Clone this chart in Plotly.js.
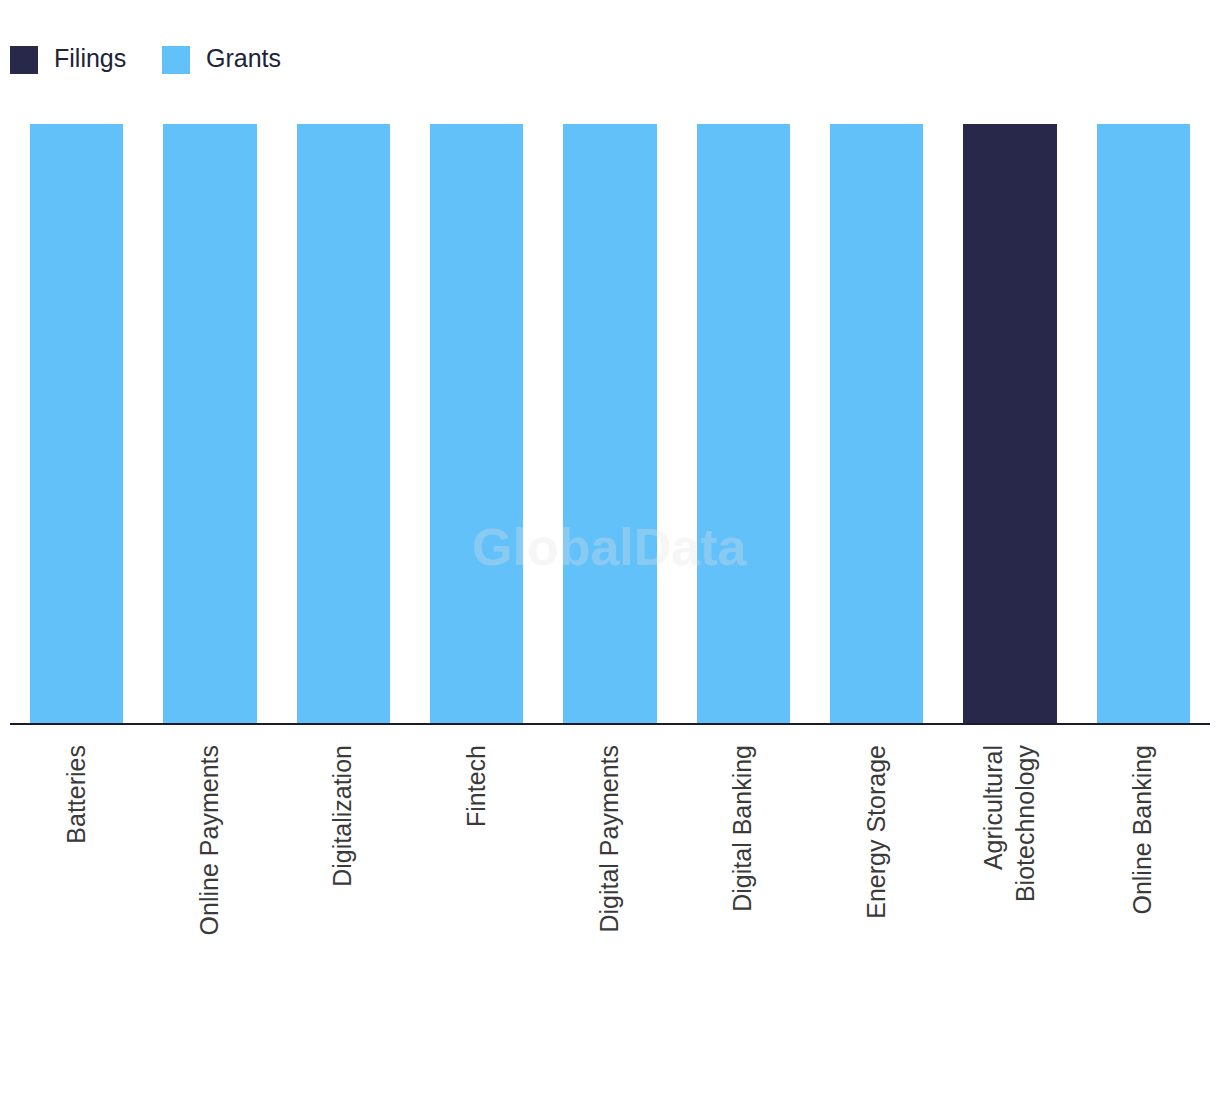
<!DOCTYPE html>
<html>
<head>
<meta charset="utf-8">
<script src="https://cdn.plot.ly/plotly-3.0.1.min.js"></script>
<style>html,body{margin:0;padding:0;background:#fff;}#chart{width:1220px;height:1094px;}</style>
</head>
<body>
<div id="chart"></div>
<script>
var categories = ["Batteries", "Online Payments", "Digitalization", "Fintech", "Digital Payments", "Digital Banking", "Energy Storage", "Agricultural<br>Biotechnology", "Online Banking"];
var filings = [0, 0, 0, 0, 0, 0, 0, 1, 0];
var grants  = [1, 1, 1, 1, 1, 1, 1, 0, 1];
var seriesNames = ["Filings", "Grants"];
var seriesColors = ["#27284a", "#63c1f9"];

var traces = [
  {type: "bar", name: seriesNames[0], x: categories, y: filings, marker: {color: seriesColors[0]}, showlegend: false, hoverinfo: "x+name"},
  {type: "bar", name: seriesNames[1], x: categories, y: grants, marker: {color: seriesColors[1]}, showlegend: false, hoverinfo: "x+name"}
];

// legend drawn manually (paper coords)
var W = 1200, H = 599;
function px(x){ return (x - 10) / W; }
function py(y){ return (723 - y) / H; }
var legendX = [10, 162];
var shapes = [], annotations = [];
seriesNames.forEach(function(n, i){
  shapes.push({type: "rect", xref: "paper", yref: "paper", x0: px(legendX[i]), x1: px(legendX[i] + 28), y0: py(74), y1: py(46), fillcolor: seriesColors[i], line: {width: 0}});
  annotations.push({xref: "paper", yref: "paper", x: px(legendX[i] + 42), y: py(58), xanchor: "left", yanchor: "middle", text: n, showarrow: false, font: {family: "Liberation Sans, Arial, sans-serif", size: 25, color: "#20223a"}});
});
annotations.push({xref: "paper", yref: "paper", x: 0.5, y: py(547), xanchor: "center", yanchor: "middle", text: "<b>GlobalData</b>", showarrow: false, font: {family: "Liberation Sans, Arial, sans-serif", size: 52, color: "rgba(225,225,225,0.3)"}});

var layout = {
  width: 1220, height: 1094,
  margin: {l: 10, r: 10, t: 124, b: 371, pad: 0},
  paper_bgcolor: "#ffffff", plot_bgcolor: "#ffffff",
  barmode: "stack", barnorm: "percent", bargap: 0.3,
  showlegend: false,
  font: {family: "Liberation Sans, Arial, sans-serif"},
  xaxis: {type: "category", tickangle: -90, showline: true, linecolor: "#1b1b2b", linewidth: 2, showgrid: false, zeroline: false,
          ticks: "outside", ticklen: 10, tickcolor: "rgba(0,0,0,0)",
          tickfont: {family: "Liberation Sans, Arial, sans-serif", size: 25, color: "#3a3a3a"}},
  yaxis: {range: [0, 100], visible: false, showgrid: false, zeroline: false},
  shapes: shapes,
  annotations: annotations
};
Plotly.newPlot("chart", traces, layout, {displayModeBar: false, staticPlot: true});
</script>
</body>
</html>
